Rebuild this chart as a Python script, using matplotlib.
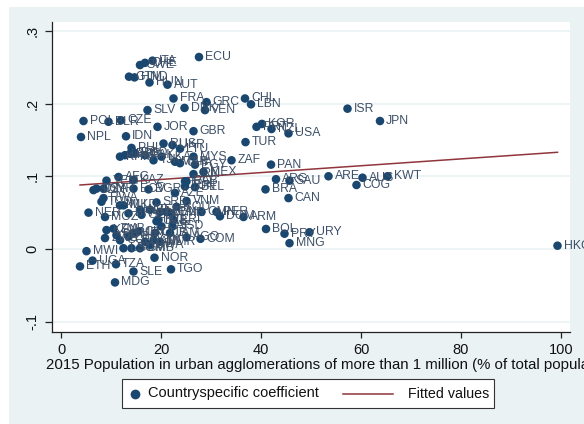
import matplotlib
matplotlib.use("Agg")
import matplotlib.pyplot as plt
from matplotlib.patches import Rectangle
from matplotlib.lines import Line2D

plt.rcParams['font.family'] = ['Liberation Sans', 'DejaVu Sans']

# country codes, urban share (x) and country-specific coefficient (y)
codes = ['ECU', 'ITA', 'CHE', 'SWE', 'GTM', 'HND', 'HUN', 'AUT', 'FRA', 'SLV',
         'DNK', 'GRC', 'VEN', 'CHL', 'LBN', 'ISR', 'JPN', 'POL', 'BLR', 'CZE',
         'NPL', 'IDN', 'JOR', 'GBR', 'KOR', 'PRT', 'NZL', 'USA', 'TUR', 'ZAF',
         'PAN', 'RUS', 'UKR', 'LTU', 'PHL', 'KHM', 'LAO', 'BRB', 'BGD', 'PAK',
         'TJK', 'LKA', 'MAR', 'MYS', 'EGY', 'GHA', 'IRN', 'MEX', 'IRQ', 'TUN',
         'BEL', 'AFG', 'YEM', 'KAZ', 'BGR', 'DZA', 'SDN', 'SYR', 'AZE', 'TCD',
         'RWA', 'NER', 'MOZ', 'MLI', 'BFA', 'GEO', 'SRB', 'VNM', 'ROU', 'SEN',
         'CMR', 'NGA', 'BEN', 'OMN', 'PER', 'DOM', 'ARM', 'ERI', 'HTI', 'KEN',
         'ZMB', 'ZWE', 'BDI', 'GIN', 'CIV', 'CUB', 'COD', 'LBR', 'MRT', 'NAM',
         'LSO', 'SOM', 'GMB', 'BWA', 'MMR', 'AGO', 'COM', 'MWI', 'UGA', 'ETH',
         'TZA', 'SLE', 'MDG', 'TGO', 'NOR', 'BOL', 'PRY', 'URY', 'MNG', 'BRA',
         'CAN', 'ARG', 'SAU', 'ARE', 'AUS', 'KWT', 'COG', 'HKG', 'MKD', 'ALB',
         'CAF', 'SSD', 'JAM', 'UZB', 'ECV', 'GAB']
urban = [27.6, 18.3, 16.8, 15.8, 13.6, 14.7, 17.7, 21.3, 22.5, 17.3,
         24.7, 29.1, 28.8, 36.8, 38.0, 57.3, 63.8, 4.5, 9.5, 12.0,
         4.0, 13.0, 19.3, 26.5, 40.2, 39.1, 42.1, 45.5, 36.9, 34.1,
         42.0, 20.5, 22.3, 23.8, 14.1, 11.8, 12.8, 13.8, 14.8, 16.8,
         18.5, 20.1, 22.8, 26.5, 26.8, 23.8, 26.5, 28.5, 24.8, 24.8,
         26.8, 11.5, 9.1, 14.5, 17.5, 7.1, 6.5, 8.5, 22.8, 8.1,
         8.5, 5.5, 8.8, 11.8, 13.5, 16.1, 19.1, 25.1, 23.1, 21.1,
         22.1, 19.8, 17.8, 28.1, 31.1, 31.8, 36.5, 22.5, 19.5, 9.1,
         10.5, 8.8, 11.1, 18.5, 15.5, 18.8, 11.8, 13.5, 14.5, 16.8,
         12.5, 14.1, 15.8, 17.8, 19.8, 25.1, 27.9, 5.1, 6.3, 3.8,
         11.0, 14.5, 10.8, 22.0, 18.7, 41.0, 44.7, 49.7, 45.7, 40.9,
         45.5, 43.0, 45.7, 53.5, 60.3, 65.3, 59.1, 99.3, 12.5, 15.8,
         20.1, 22.3, 21.8, 19.1, 14.5, 25.1]
coef = [0.264, 0.259, 0.256, 0.253, 0.237, 0.236, 0.229, 0.226, 0.207, 0.191,
        0.194, 0.202, 0.191, 0.207, 0.199, 0.193, 0.176, 0.176, 0.175, 0.177,
        0.154, 0.155, 0.168, 0.162, 0.172, 0.168, 0.165, 0.159, 0.147, 0.122,
        0.116, 0.145, 0.143, 0.138, 0.139, 0.127, 0.129, 0.131, 0.132, 0.129,
        0.122, 0.127, 0.120, 0.127, 0.116, 0.118, 0.103, 0.106, 0.093, 0.086,
        0.085, 0.099, 0.094, 0.095, 0.082, 0.083, 0.081, 0.083, 0.077, 0.065,
        0.070, 0.050, 0.044, 0.060, 0.049, 0.047, 0.064, 0.066, 0.058, 0.051,
        0.049, 0.051, 0.054, 0.051, 0.051, 0.045, 0.044, 0.040, 0.040, 0.026,
        0.028, 0.015, 0.019, 0.012, 0.024, 0.022, 0.012, 0.017, 0.022, 0.010,
        0.001, 0.001, 0.001, 0.0055, 0.010, 0.016, 0.014, -0.003, -0.016, -0.024,
        -0.021, -0.031, -0.046, -0.028, -0.012, 0.0275, 0.021, 0.023, 0.008, 0.082,
        0.070, 0.096, 0.094, 0.100, 0.098, 0.100, 0.088, 0.0045, 0.060, 0.054,
        0.031, 0.031, 0.022, 0.038, 0.083, 0.093]

# fitted values line (end points)
fit_x = [3.8, 99.3]
fit_y = [0.088, 0.133]

navy = '#1A476F'
maroon = '#90353B'
bg = '#EAF2F3'

W, H = 584, 424
fig = plt.figure(figsize=(W / 100, H / 100), dpi=100, facecolor='white')
fig.patches.append(Rectangle((9 / W, 0), 1, 1 - 7 / H, transform=fig.transFigure,
                             facecolor=bg, edgecolor='none', zorder=-10))

ax = fig.add_axes([52 / W, 1 - 332 / H, (570 - 52) / W, (332 - 22) / H])
ax.set_facecolor('white')
ax.set_xlim(-1.8, 101.8)
ax.set_ylim(-0.1142, 0.3122)

ax.set_yticks([-0.1, 0, 0.1, 0.2, 0.3])
ax.set_yticklabels(['-.1', '0', '.1', '.2', '.3'])
ax.set_xticks([0, 20, 40, 60, 80, 100])
ax.grid(axis='y', color=bg, lw=1.2, zorder=0)
ax.set_axisbelow(True)

for s in ['top', 'right']:
    ax.spines[s].set_visible(False)
for s in ['left', 'bottom']:
    ax.spines[s].set_color('#222222')
    ax.spines[s].set_linewidth(0.9)
ax.tick_params(axis='y', length=5, width=0.9, color='#222222', pad=4,
               labelrotation=90, labelsize=10.5, labelcolor='#111111')
ax.tick_params(axis='x', length=4, width=0.9, color='#222222', pad=4,
               labelsize=10.5, labelcolor='#111111')
for lab in ax.get_yticklabels():
    lab.set_va('center')

ax.plot(fit_x, fit_y, color=maroon, lw=1.1, zorder=2)
ax.scatter(urban, coef, s=38, color=navy, edgecolor='none', zorder=3)
for c, x, y in zip(codes, urban, coef):
    ax.annotate(c, (x, y), xytext=(4.5, 0), textcoords='offset points',
                va='center', ha='left', fontsize=8.8, color='#3d5068', zorder=4)

fig.text(46 / W, 1 - 365 / H,
         '2015 Population in urban agglomerations of more than 1 million (% of total population)',
         ha='left', va='center', fontsize=10.8, color='#111111')

# legend box
fig.patches.append(Rectangle((122 / W, 1 - 408 / H), (494 - 122) / W, 29 / H,
                             transform=fig.transFigure, facecolor='white',
                             edgecolor='#333333', lw=0.8))
ly = 1 - 393.5 / H
fig.add_artist(Line2D([135 / W], [ly], marker='o', markersize=6, color=navy, lw=0,
                      transform=fig.transFigure))
fig.text(148 / W, ly, 'Countryspecific coefficient', ha='left', va='center',
         fontsize=10.5, color='#111111')
fig.add_artist(Line2D([343 / W, 393 / W], [ly, ly], color=maroon, lw=1.1,
                      transform=fig.transFigure))
fig.text(408 / W, ly, 'Fitted values', ha='left', va='center',
         fontsize=10.3, color='#111111')

fig.savefig('out.png', dpi=100, facecolor=fig.get_facecolor())
